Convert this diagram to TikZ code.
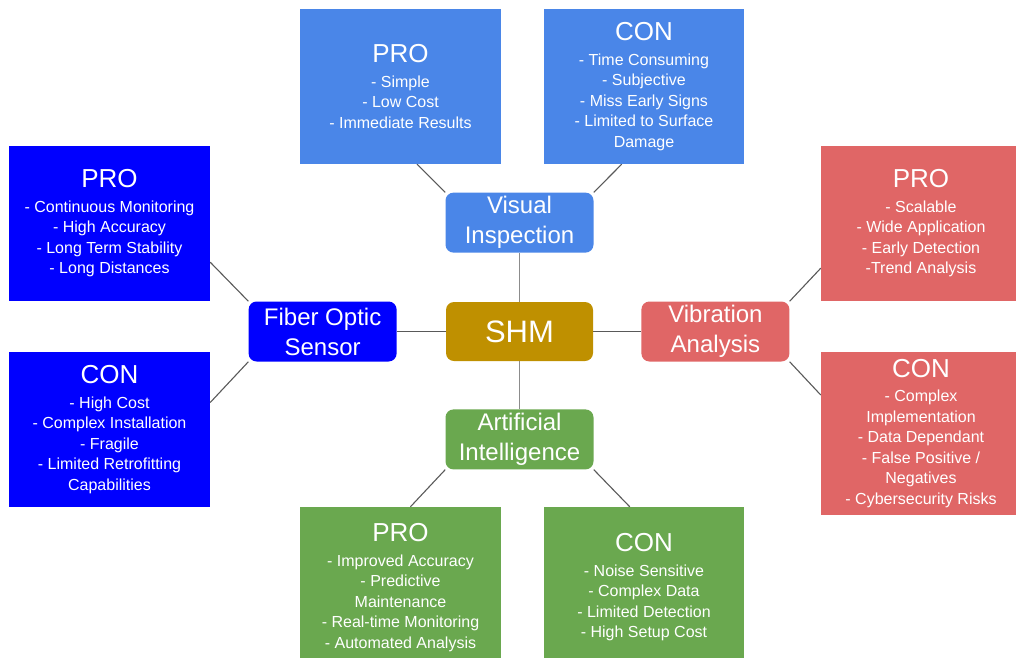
\documentclass[tikz,border=0pt]{standalone}
\usepackage{fontspec}
\setmainfont{Liberation Sans}
\usepackage{xcolor}
\usepackage{tikz}
\usetikzlibrary{positioning, backgrounds}

\definecolor{viblue}{HTML}{4A86E8}
\definecolor{fosblue}{HTML}{0000FF}
\definecolor{shmgold}{HTML}{BF9000}
\definecolor{vared}{HTML}{E06666}
\definecolor{aigreen}{HTML}{6AA84F}
\definecolor{linkdark}{HTML}{595959}
\definecolor{linklight}{HTML}{8C8C8C}

\begin{document}
\begin{tikzpicture}[
        x=1pt, y=-1pt,
        hub/.style={fill=#1, rounded corners=8pt, text=white, minimum width=148pt, minimum height=60pt, inner sep=0pt, align=center, font=\fontsize{24}{30}\selectfont},
        hub/.default=viblue,
        card/.style={fill=#1, text=white, minimum width=201pt, minimum height=155pt, inner sep=0pt, align=center, font=\fontsize{16}{20.5}\selectfont},
        card/.default=viblue,
        link/.style={draw=linkdark, line width=1.1pt},
        trunk/.style={draw=linklight, line width=1.3pt},
    ]
    \useasboundingbox (0,0) rectangle (1016,657);

    % Centre
    \node[hub=shmgold, minimum width=147pt, minimum height=59pt, font=\fontsize{31}{31}\selectfont] (shm) at (519.5,331.5) {SHM};

    % Methods round the centre
    \node[hub=viblue, above=49pt of shm] (vi) {Visual\\Inspection};
    \node[hub=aigreen, below=48pt of shm] (ai) {Artificial\\Intelligence};
    \node[hub=fosblue, left=49pt of shm] (fos) {Fiber Optic\\Sensor};
    \node[hub=vared, right=48pt of shm] (va) {Vibration\\Analysis};

    % Visual inspection
    \node[card=viblue] (vipro) at (400.5,86.5) {{\fontsize{26}{26}\selectfont PRO}\\[4pt]- Simple\\- Low Cost\\- Immediate Results};
    \node[card=viblue, minimum width=200pt] (vicon) at (644,86.5) {{\fontsize{26}{26}\selectfont CON}\\[4pt]- Time Consuming\\- Subjective\\- Miss Early Signs\\- Limited to Surface\\Damage};

    % Fiber optic sensor
    \node[card=fosblue] (fospro) at (109.5,223.5) {{\fontsize{26}{26}\selectfont PRO}\\[4pt]- Continuous Monitoring\\- High Accuracy\\- Long Term Stability\\- Long Distances};
    \node[card=fosblue] (foscon) at (109.5,429.5) {{\fontsize{26}{26}\selectfont CON}\\[4pt]- High Cost\\- Complex Installation\\- Fragile\\- Limited Retrofitting\\Capabilities};

    % Vibration analysis
    \node[card=vared, minimum width=200pt] (vapro) at (921,223.5) {{\fontsize{26}{26}\selectfont PRO}\\[4pt]- Scalable\\- Wide Application\\- Early Detection\\-Trend Analysis};
    \node[card=vared, minimum width=200pt, minimum height=163pt] (vacon) at (921,433.5) {{\fontsize{26}{26}\selectfont CON}\\[4pt]- Complex\\Implementation\\- Data Dependant\\- False Positive /\\Negatives\\- Cybersecurity Risks};

    % Artificial intelligence
    \node[card=aigreen, minimum height=161pt] (aipro) at (400.5,587.5) {{\fontsize{26}{26}\selectfont PRO}\\[4pt]- Improved Accuracy\\- Predictive\\Maintenance\\- Real-time Monitoring\\- Automated Analysis};
    \node[card=aigreen, minimum width=200pt, minimum height=161pt] (aicon) at (644,587.5) {{\fontsize{26}{26}\selectfont CON}\\[4pt]- Noise Sensitive\\- Complex Data\\- Limited Detection\\- High Setup Cost};

    % Connectors
    \begin{scope}[on background layer]
        \draw[trunk] (shm) -- (vi);
        \draw[trunk] (shm) -- (ai);
        \draw[link] (shm) -- (fos);
        \draw[link] (shm) -- (va);
        \draw[link] (vi.north west) -- (vipro.-78);
        \draw[link] (vi.north east) -- (vicon.-106);
        \draw[link] (fos.north west) -- (fospro.-21);
        \draw[link] (fos.south west) -- (foscon.15);
        \draw[link] (va.north east) -- (vapro.-156);
        \draw[link] (va.south east) -- (vacon.159);
        \draw[link] (ai.south west) -- (aipro.83);
        \draw[link] (ai.south east) -- (aicon.100);
    \end{scope}
\end{tikzpicture}
\end{document}
